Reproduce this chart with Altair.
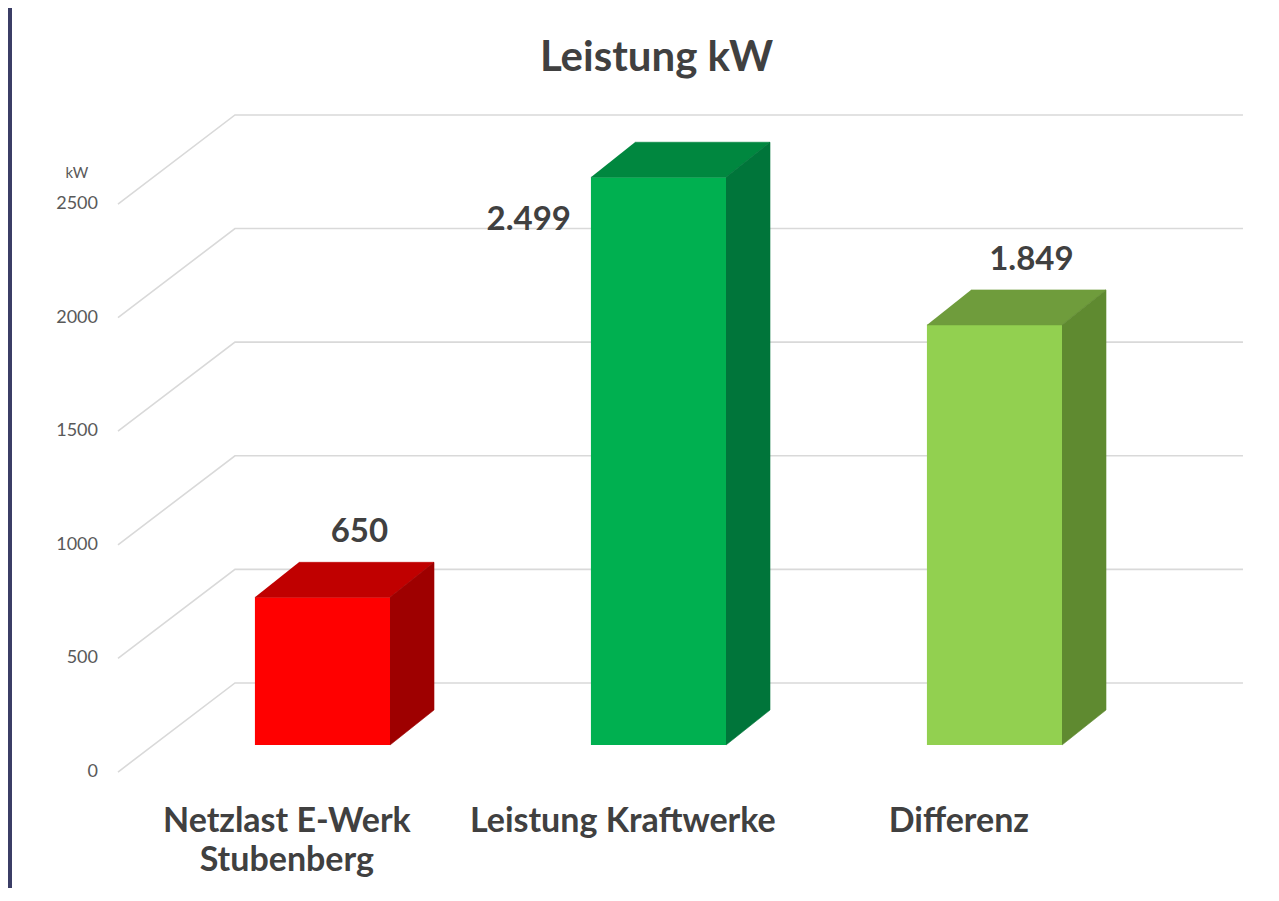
import altair as alt
import pandas as pd

# ---------------- data ----------------
title_text = "Leistung kW"
categories = ["Netzlast E-Werk\nStubenberg", "Leistung Kraftwerke", "Differenz"]
values = [650, 2499, 1849]
value_labels = ["650", "2.499", "1.849"]
front_colors = ["#FF0000", "#00B050", "#92D050"]
top_colors = ["#C00000", "#00873F", "#6F9C3C"]
side_colors = ["#9E0000", "#00753A", "#5F8A30"]
ticks = [0, 500, 1000, 1500, 2000, 2500]
tick_labels = ["0", "500", "1000", "1500", "2000", "2500"]
unit_label = "kW"

# ---------------- layout / style constants ----------------
VW, VH = 1259, 880          # view size (px)
PX_CAT = 336.0              # px per category step
PX_KW = 0.2272              # px per kW
X_LEFT = -0.924             # category coordinate of view's left edge
Y_TOP = 737 / PX_KW         # kW coordinate of view's top edge
BAR_HALF = 0.201            # half bar width (category units)
DEP_X = 44 / PX_CAT         # bar depth offset (category units)
DEP_Y = 35 / PX_KW          # bar depth offset (kW units)
WALL_FX, WALL_FY = -0.6086, -119   # front end of wall gridlines
WALL_BX, WALL_BY = -0.2604, 273    # back corner of wall gridlines
WALL_END = 2.7396                  # right end of back gridlines
FONT = "Lato"
TXT = "#404040"

xs = alt.Scale(domain=[X_LEFT, X_LEFT + VW / PX_CAT], nice=False, zero=False)
ys = alt.Scale(domain=[Y_TOP - VH / PX_KW, Y_TOP], nice=False, zero=False)

# ---------------- tables ----------------
grid_rows = []
for g in ticks:
    grid_rows += [
        {"g": g, "o": 0, "x": WALL_FX, "y": g + WALL_FY},
        {"g": g, "o": 1, "x": WALL_BX, "y": g + WALL_BY},
        {"g": g, "o": 2, "x": WALL_END, "y": g + WALL_BY},
    ]
grid_df = pd.DataFrame(grid_rows)
tick_df = pd.DataFrame({"x": [WALL_FX] * len(ticks),
                        "y": [g + WALL_FY for g in ticks],
                        "t": tick_labels})
unit_df = pd.DataFrame({"x": [WALL_FX], "y": [max(ticks) + WALL_FY], "t": [unit_label]})

front_rows, face_rows = [], []
for i, v in enumerate(values):
    x0, x1 = i - BAR_HALF, i + BAR_HALF
    front_rows.append({"b": i, "x": x0, "x2": x1, "y": 0, "y2": v, "c": front_colors[i]})
    top_poly = [(x0, v), (x1, v), (x1 + DEP_X, v + DEP_Y), (x0 + DEP_X, v + DEP_Y)]
    side_poly = [(x1, 0), (x1 + DEP_X, DEP_Y), (x1 + DEP_X, v + DEP_Y), (x1, v)]
    for o, (xx, yy) in enumerate(top_poly):
        face_rows.append({"f": f"t{i}", "o": o, "x": xx, "y": yy, "c": top_colors[i]})
    for o, (xx, yy) in enumerate(side_poly):
        face_rows.append({"f": f"s{i}", "o": o, "x": xx, "y": yy, "c": side_colors[i]})
front_df = pd.DataFrame(front_rows)
face_df = pd.DataFrame(face_rows)

vmax = max(values)
lab_above = pd.DataFrame([{"x": i + 0.11, "y": v + DEP_Y + 20 / PX_KW, "t": value_labels[i]}
                          for i, v in enumerate(values) if v != vmax])
lab_left = pd.DataFrame([{"x": i - BAR_HALF, "y": v - 53 / PX_KW, "t": value_labels[i]}
                         for i, v in enumerate(values) if v == vmax])
cat_df = pd.DataFrame({"x": [i - 0.106 for i in range(len(categories))],
                       "y": [-383] * len(categories), "t": categories})

X = lambda: alt.X("x:Q", scale=xs, axis=None)
Y = lambda: alt.Y("y:Q", scale=ys, axis=None, stack=None)

grid = alt.Chart(grid_df).mark_line(color="#D9D9D9", strokeWidth=1.6).encode(
    x=X(), y=Y(), detail="g:N", order="o:Q")
tick_txt = alt.Chart(tick_df).mark_text(align="right", baseline="middle", dx=-20,
                                        font=FONT, fontSize=18, color="#595959").encode(
    x=X(), y=Y(), text="t:N")
unit_txt = alt.Chart(unit_df).mark_text(align="center", baseline="middle", dx=-41, dy=-31,
                                        font=FONT, fontSize=15, color="#595959").encode(
    x=X(), y=Y(), text="t:N")
front = alt.Chart(front_df).mark_rect().encode(
    x=X(), x2="x2:Q", y=Y(), y2="y2:Q", color=alt.Color("c:N", scale=None))
faces = alt.Chart(face_df).mark_line(filled=True, strokeWidth=0.6).encode(
    x=X(), y=Y(), detail="f:N", order="o:Q",
    fill=alt.Fill("c:N", scale=None), stroke=alt.Stroke("c:N", scale=None))
val_above = alt.Chart(lab_above).mark_text(align="center", baseline="alphabetic",
                                           font=FONT, fontSize=33, fontWeight="bold", color=TXT).encode(
    x=X(), y=Y(), text="t:N")
val_left = alt.Chart(lab_left).mark_text(align="right", baseline="alphabetic", dx=-20,
                                         font=FONT, fontSize=33, fontWeight="bold", color=TXT).encode(
    x=X(), y=Y(), text="t:N")
cat_txt = alt.Chart(cat_df).mark_text(align="center", baseline="alphabetic", lineBreak="\n",
                                      lineHeight=39, font=FONT, fontSize=34, fontWeight="bold",
                                      color=TXT).encode(
    x=X(), y=Y(), text="t:N")

chart = alt.layer(grid, tick_txt, unit_txt, front, faces, val_above, val_left, cat_txt).properties(
    width=VW, height=VH,
    padding={"left": 4, "top": 0, "right": 0, "bottom": 0},
    autosize=alt.AutoSizeParams(type="none"),
    background="#3B3E66",
    title=alt.TitleParams(text=title_text, font=FONT, fontSize=42, fontWeight="bold", color=TXT,
                          anchor="middle", baseline="alphabetic", offset=-105, dx=15),
).configure_view(fill="white", stroke=None)

chart.save("out.html", embed_options={"renderer": "svg", "actions": False})
